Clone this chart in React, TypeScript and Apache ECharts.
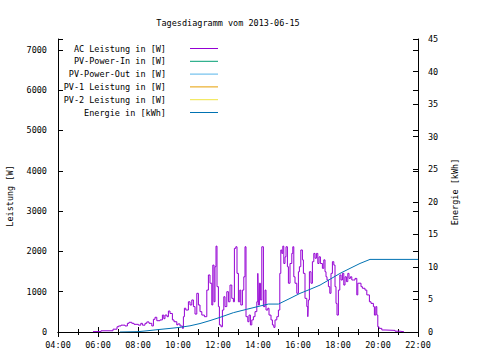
import React, { useEffect, useRef } from "react";
import * as echarts from "echarts";

const TITLE = "Tagesdiagramm vom 2013-06-15";
const legendNames = [
  "AC Leistung in [W]",
  "PV-Power-In in [W]",
  "PV-Power-Out in [W]",
  "PV-1 Leistung in [W]",
  "PV-2 Leistung in [W]",
  "Energie in [kWh]",
];
const legendColors = ["#9400d3", "#009e73", "#56b4e9", "#e69f00", "#f0e442", "#0072b2"];

// time in decimal hours, AC power in W
const powerTimes = [
  5.75, 6.15, 6.75, 6.95, 7.03, 7.15, 7.35, 7.47, 7.55, 7.69, 7.8, 8.02, 8.14, 8.22, 8.35, 8.44, 8.55, 8.69, 8.77, 8.85,
  8.94, 9.1, 9.22, 9.29, 9.35, 9.45, 9.52, 9.6, 9.72, 9.8, 9.94, 9.99, 10.1, 10.22, 10.27, 10.32, 10.39, 10.52, 10.6,
  10.69, 10.77, 10.85, 10.94, 11.02, 11.1, 11.19, 11.32, 11.44, 11.52, 11.6, 11.69, 11.74, 11.8, 11.85, 11.9, 11.95,
  12.02, 12.07, 12.15, 12.22, 12.29, 12.35, 12.44, 12.52, 12.6, 12.69, 12.77, 12.82, 12.89, 12.95, 13.02, 13.09, 13.14,
  13.22, 13.29, 13.35, 13.4, 13.49, 13.55, 13.62, 13.69, 13.77, 13.85, 13.94, 13.99, 14.02, 14.07, 14.12, 14.19, 14.27,
  14.35, 14.4, 14.49, 14.55, 14.65, 14.72, 14.79, 14.85, 14.94, 15.02, 15.09, 15.14, 15.19, 15.24, 15.29, 15.35, 15.4,
  15.47, 15.52, 15.6, 15.69, 15.74, 15.79, 15.85, 15.94, 16.02, 16.07, 16.14, 16.22, 16.27, 16.35, 16.44, 16.49, 16.52,
  16.57, 16.65, 16.72, 16.79, 16.85, 16.92, 16.99, 17.05, 17.12, 17.22, 17.29, 17.35, 17.4, 17.45, 17.52, 17.59, 17.65,
  17.72, 17.79, 17.85, 17.9, 17.95, 18.02, 18.09, 18.15, 18.22, 18.29, 18.35, 18.42, 18.49, 18.55, 18.62, 18.69, 18.77,
  18.85, 18.94, 18.99, 19.05, 19.15, 19.22, 19.35, 19.44, 19.57, 19.65, 19.77, 19.82, 19.89, 19.94, 19.99, 20.05, 20.19,
  20.35, 20.85, 21.1, 21.3,
];
const acPower = [
  10, 30, 70, 130, 150, 170, 150, 215, 240, 215, 190, 170, 215, 170, 215, 250, 215, 150, 315, 365,
  280, 300, 420, 330, 420, 380, 520, 460, 300, 255, 175, 200, 150, 90, 380, 590, 545, 750, 670,
  795, 630, 445, 960, 670, 505, 420, 380, 1040, 1415, 1210, 670, 1660, 750, 1620, 2130, 1125,
  630, 175, 130, 545, 875, 630, 1000, 750, 1165, 835, 750, 2075, 2115, 1455, 750, 1040, 670,
  1040, 1370, 2115, 380, 255, 420, 175, 300, 380, 505, 750, 1455, 670, 1210, 795, 2115, 630,
  1040, 545, 590, 420, 300, 175, 115, 300, 380, 545, 1455, 2035, 1950, 2130, 1700, 1865, 2115,
  1620, 1210, 1700, 1950, 2115, 1370, 1210, 960, 1495, 1620, 2035, 1790, 1455, 835, 630, 380, 795,
  1495, 1210, 1745, 1950, 1830, 1950, 1700, 1865, 1700, 1580, 1790, 1495, 1370, 1290, 1125, 960, 1455,
  1745, 1660, 1125, 710, 420, 1040, 1415, 1290, 1455, 1165, 1370, 1250, 1455, 1330, 1370, 1290, 1290,
  1330, 920, 1210, 1210, 1125, 1085, 1040, 920, 750, 710, 630, 420, 630, 420, 130, 90, 50,
  40, 20, 5, 0,
];

// energy in kWh
const energyTimes = [
  7.1, 8.0, 8.5, 9.1, 9.6, 10.1, 10.6, 11.1, 11.6, 12.1, 12.77, 13.43, 14.1, 14.52, 15.02, 15.6, 16.1, 16.6, 17.1,
  17.6, 18.1, 18.6, 19.1, 19.6, 22.0,
];
const energy = [
  0, 0.05, 0.2, 0.4, 0.55, 0.72, 0.95, 1.3, 1.75, 2.25, 2.97, 3.48, 3.99, 4.29, 4.29, 5.16, 5.93, 6.55, 7.2, 8.1, 9.0,
  9.77, 10.53, 11.15, 11.15,
];

const FONT = "DejaVu Sans Mono";
const FS = 8.5;

export default function App() {
  const ref = useRef<HTMLDivElement>(null);
  useEffect(() => {
    if (!ref.current) return;
    const chart = echarts.init(ref.current, undefined, { renderer: "svg" });
    const fmtHour = (v: number) => (v < 10 ? "0" + v : "" + v) + ":00";
    const tickCommon = { show: true, inside: true, length: 5, lineStyle: { color: "#000" } };
    const lineCommon = { show: true, lineStyle: { color: "#000", width: 1 } };
    const legendGraphics: any[] = [];
    legendNames.forEach((n, i) => {
      const y = 48.5 + i * 12.8;
      legendGraphics.push({
        type: "text",
        x: 166,
        y,
        style: { text: n, fill: "#000", font: `${FS}px '${FONT}'`, textAlign: "right", textVerticalAlign: "middle" },
      });
      legendGraphics.push({
        type: "line",
        shape: { x1: 190, y1: y, x2: 218, y2: y },
        style: { stroke: legendColors[i], lineWidth: 1 },
      });
    });
    chart.setOption({
      animation: false,
      backgroundColor: "#fff",
      textStyle: { fontFamily: FONT, fontSize: FS, color: "#000" },
      grid: { left: 58, right: 62, top: 39, bottom: 28, containLabel: false },
      title: {
        text: TITLE,
        left: 223,
        top: 13,
        textAlign: "center",
        textStyle: { fontFamily: FONT, fontSize: FS, fontWeight: "normal", color: "#000" },
      },
      xAxis: [
        {
          type: "value",
          min: 4,
          max: 22,
          interval: 2,
          position: "bottom",
          axisLine: lineCommon,
          axisTick: tickCommon,
          minorTick: { show: true, splitNumber: 2, length: 3, lineStyle: { color: "#000" } },
          splitLine: { show: false },
          axisLabel: { formatter: fmtHour, margin: 8, fontFamily: FONT, fontSize: FS, color: "#000" },
        },
        {
          type: "value",
          min: 4,
          max: 22,
          interval: 2,
          position: "top",
          axisLine: lineCommon,
          axisTick: tickCommon,
          minorTick: { show: true, splitNumber: 2, length: 3, lineStyle: { color: "#000" } },
          splitLine: { show: false },
          axisLabel: { show: false },
        },
      ],
      yAxis: [
        {
          type: "value",
          min: 0,
          max: 7270,
          interval: 1000,
          position: "left",
          axisLine: lineCommon,
          axisTick: tickCommon,
          splitLine: { show: false },
          axisLabel: {
            formatter: (v: number) => (v % 1000 === 0 ? String(v) : ""),
            margin: 11,
            fontFamily: FONT,
            fontSize: FS,
            color: "#000",
          },
        },
        {
          type: "value",
          min: 0,
          max: 45,
          interval: 5,
          position: "right",
          axisLine: lineCommon,
          axisTick: tickCommon,
          splitLine: { show: false },
          axisLabel: { margin: 10, fontFamily: FONT, fontSize: FS, color: "#000" },
        },
        {
          type: "value",
          min: 0,
          max: 7270,
          interval: 1000,
          position: "right",
          axisLine: { show: false },
          axisTick: tickCommon,
          splitLine: { show: false },
          axisLabel: { show: false },
        },
      ],
      series: [
        {
          name: legendNames[0],
          type: "line",
          xAxisIndex: 0,
          yAxisIndex: 0,
          step: "end",
          symbol: "none",
          lineStyle: { color: legendColors[0], width: 1 },
          data: powerTimes.map((t, i) => [t, acPower[i]]),
        },
        {
          name: legendNames[5],
          type: "line",
          xAxisIndex: 0,
          yAxisIndex: 1,
          symbol: "none",
          lineStyle: { color: legendColors[5], width: 1 },
          data: energyTimes.map((t, i) => [t, energy[i]]),
        },
      ],
      graphic: [
        ...legendGraphics,
        {
          type: "text",
          x: 10,
          y: 196,
          rotation: Math.PI / 2,
          style: {
            text: "Leistung [W]",
            fill: "#000",
            font: `${FS}px '${FONT}'`,
            textAlign: "center",
            textVerticalAlign: "middle",
          },
        },
        {
          type: "text",
          x: 455,
          y: 192,
          rotation: Math.PI / 2,
          style: {
            text: "Energie [kWh]",
            fill: "#000",
            font: `${FS}px '${FONT}'`,
            textAlign: "center",
            textVerticalAlign: "middle",
          },
        },
      ],
    });
    return () => chart.dispose();
  }, []);
  return <div ref={ref} style={{ position: "fixed", left: 0, top: 0, width: 480, height: 360 }} />;
}
